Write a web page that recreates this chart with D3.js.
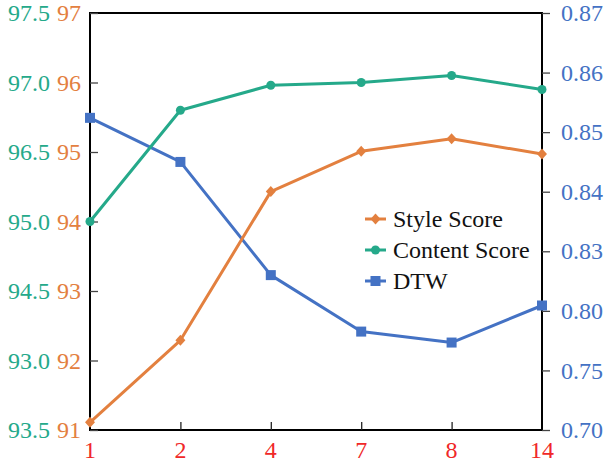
<!DOCTYPE html>
<html><head><meta charset="utf-8">
<script src="https://cdn.jsdelivr.net/npm/d3@7"></script>
<style>body{margin:0;background:#fff} text{font-family:'Liberation Serif','Times New Roman','DejaVu Serif',serif;}</style>
</head><body>
<svg id="c" width="604" height="463"></svg>
<script>
const categories = ["1","2","4","7","8","14"];
const styleScore = [91.11, 92.29, 94.43, 95.01, 95.19, 94.97];
const contentScore = [96.00, 96.80, 96.98, 97.00, 97.05, 96.95];
const dtw = [0.8524, 0.8450, 0.818, 0.7826, 0.7734, 0.8027];
const styleTicks = [91, 92, 93, 94, 95, 96, 97];
const contentTicks = [94.5, 95.0, 95.5, 96.0, 96.5, 97.0, 97.5];
const contentTickLabels = ["93.5", "93.0", "94.5", "95.0", "96.5", "97.0", "97.5"];
const dtwTicks = [0.70, 0.75, 0.80, 0.83, 0.84, 0.85, 0.86, 0.87];
const seriesNames = ["Style Score", "Content Score", "DTW"];

const colors = {style: "#E3803F", content: "#25A98A", dtw: "#4472C4", xlab: "#F02828"};
const L = 90, R = 542, T = 13, B = 430;
const font = "'Liberation Serif', 'Times New Roman', 'DejaVu Serif', serif";
const svg = d3.select("#c");

const x = d3.scalePoint().domain(categories).range([L, R]);
const yS = d3.scaleLinear().domain([91, 97]).range([B, T]);
const yC = d3.scaleLinear().domain([94.5, 97.5]).range([B, T]);
const yD = d3.scaleLinear().domain(dtwTicks)
  .range(dtwTicks.map((d, i) => B - i * (B - T) / (dtwTicks.length - 1)));

// frame
svg.append("rect").attr("x", L).attr("y", T).attr("width", R - L).attr("height", B - T)
  .attr("fill", "none").attr("stroke", "#000").attr("stroke-width", 2);

// left axis ticks (inward)
const gl = svg.append("g").attr("transform", `translate(${L},0)`)
  .call(d3.axisRight(yS).tickValues(styleTicks).tickSize(8).tickFormat(""));
gl.select(".domain").remove();
gl.selectAll("line").attr("stroke", "#444").attr("stroke-width", 1.3);
// orange labels
svg.append("g").selectAll("text").data(styleTicks).join("text")
  .attr("x", 81).attr("y", d => yS(d)).attr("dy", "0.35em").attr("text-anchor", "end")
  .style("font-family", font).attr("font-size", 24).attr("fill", colors.style).text(d => d);
// green labels
svg.append("g").selectAll("text").data(contentTicks).join("text")
  .attr("x", 50).attr("y", d => yC(d)).attr("dy", "0.35em").attr("text-anchor", "end")
  .style("font-family", font).attr("font-size", 24).attr("fill", colors.content)
  .text((d, i) => contentTickLabels[i]);

// right axis
const gr = svg.append("g").attr("transform", `translate(${R},0)`)
  .call(d3.axisRight(yD).tickValues(dtwTicks).tickSize(8).tickPadding(11).tickFormat(d3.format(".2f")));
gr.select(".domain").remove();
gr.selectAll("line").attr("stroke", "#444").attr("stroke-width", 1.3);
gr.attr("font-family", null).attr("font-size", null);
gr.selectAll("text").style("font-family", font).attr("font-size", 24).attr("fill", colors.dtw);

// bottom axis
const gb = svg.append("g").attr("transform", `translate(0,${B})`)
  .call(d3.axisTop(x).tickSize(8).tickFormat(""));
gb.select(".domain").remove();
gb.selectAll("line").attr("stroke", "#222").attr("stroke-width", 1.3)
  .filter((d, i) => i === 0 || i === categories.length - 1).remove();
svg.append("g").selectAll("text").data(categories).join("text")
  .attr("x", d => x(d)).attr("y", 450).attr("dy", "0.35em").attr("text-anchor", "middle")
  .style("font-family", font).attr("font-size", 24).attr("fill", colors.xlab).text(d => d);

function drawSeries(vals, yScale, color, shape) {
  const pts = vals.map((v, i) => [x(categories[i]), yScale(v)]);
  svg.append("path").attr("d", d3.line()(pts)).attr("fill", "none")
    .attr("stroke", color).attr("stroke-width", 3).attr("stroke-linejoin", "round");
  const g = svg.append("g");
  pts.forEach(p => drawMarker(g, p[0], p[1], color, shape));
}
function drawMarker(g, px, py, color, shape) {
  if (shape === "diamond") {
    g.append("path").attr("d", `M${px},${py-5.5}L${px+5},${py}L${px},${py+5.5}L${px-5},${py}Z`).attr("fill", color);
  } else if (shape === "circle") {
    g.append("circle").attr("cx", px).attr("cy", py).attr("r", 4.5).attr("fill", color);
  } else {
    g.append("rect").attr("x", px - 5).attr("y", py - 5).attr("width", 10).attr("height", 10).attr("fill", color);
  }
}
drawSeries(dtw, yD, colors.dtw, "square");
drawSeries(contentScore, yC, colors.content, "circle");
drawSeries(styleScore, yS, colors.style, "diamond");

// legend
const legendColors = [colors.style, colors.content, colors.dtw];
const legendShapes = ["diamond", "circle", "square"];
const lg = svg.append("g");
seriesNames.forEach((name, i) => {
  const cy = 219 + i * 31;
  lg.append("line").attr("x1", 365).attr("x2", 386).attr("y1", cy).attr("y2", cy)
    .attr("stroke", legendColors[i]).attr("stroke-width", 3);
  drawMarker(lg, 375.5, cy, legendColors[i], legendShapes[i]);
  lg.append("text").attr("x", 393).attr("y", cy).attr("dy", "0.35em")
    .style("font-family", font).attr("font-size", 24).attr("fill", "#111").text(name);
});
</script>
</body></html>
